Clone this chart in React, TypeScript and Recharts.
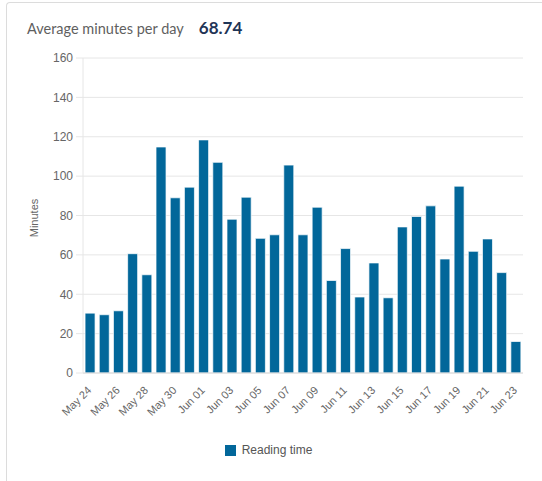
import { BarChart, Bar, XAxis, YAxis, CartesianGrid, Legend } from 'recharts';

const days = [
  'May 24', 'May 25', 'May 26', 'May 27', 'May 28', 'May 29', 'May 30', 'May 31',
  'Jun 01', 'Jun 02', 'Jun 03', 'Jun 04', 'Jun 05', 'Jun 06', 'Jun 07', 'Jun 08',
  'Jun 09', 'Jun 10', 'Jun 11', 'Jun 12', 'Jun 13', 'Jun 14', 'Jun 15', 'Jun 16',
  'Jun 17', 'Jun 18', 'Jun 19', 'Jun 20', 'Jun 21', 'Jun 22', 'Jun 23',
];
const minutes = [
  30.4, 29.6, 31.6, 60.6, 49.9, 114.8, 89, 94.4, 118.4, 107, 78.1, 89.3, 68.4, 70.2, 105.6, 70.2,
  84.2, 47, 63.2, 38.6, 55.9, 38.2, 74.2, 79.5, 84.9, 57.9, 94.9, 61.8, 68.1, 51, 16,
];
const yTicks = [0, 20, 40, 60, 80, 100, 120, 140, 160];
const averageLabel = '68.74';

const data = days.map((day, i) => ({ day, minutes: minutes[i] }));

const axisFont = '"Liberation Sans", Arial, sans-serif';

const DayTick = ({ x, y, payload }: any) => (
  <g transform={`translate(${x + 2},${y + 18})`}>
    <text textAnchor="end" transform="rotate(-45)" fill="#666" fontSize={11} fontFamily={axisFont}>
      {payload.value}
    </text>
  </g>
);

const LegendContent = () => (
  <div style={{ display: 'flex', justifyContent: 'center', alignItems: 'center', height: 20, paddingLeft: 14 }}>
    <span style={{ width: 11, height: 11, background: '#02679a', display: 'inline-block', marginRight: 6 }} />
    <span style={{ fontFamily: axisFont, fontSize: 12, color: '#555' }}>Reading time</span>
  </div>
);

export default function App() {
  return (
    <div style={{ position: 'absolute', left: 0, top: 0, width: 542, height: 481, overflow: 'hidden', background: '#fff' }}>
      <div
        style={{
          position: 'absolute', left: 6, top: 2, width: 700, height: 700,
          borderTop: '1px solid #dcdcdc', borderLeft: '1px solid #dcdcdc', borderTopLeftRadius: 4,
        }}
      />
      <div style={{ position: 'absolute', left: 27, top: 17, fontFamily: 'Lato, sans-serif', display: 'flex', alignItems: 'baseline' }}>
        <span style={{ fontSize: 14.5, color: '#5f5f5f' }}>Average minutes per day</span>
        <span style={{ fontSize: 17, fontWeight: 700, color: '#1f3557', marginLeft: 15 }}>{averageLabel}</span>
      </div>
      <div style={{ position: 'absolute', left: 0, top: 0 }}>
        <BarChart width={542} height={481} data={data} margin={{ top: 58, right: 19, left: 0, bottom: 28 }} barCategoryGap="14.5%">
          <CartesianGrid vertical={false} stroke="#e6e6e6" />
          <XAxis
            dataKey="day"
            interval={1}
            height={60}
            tick={<DayTick />}
            tickLine={false}
            tickSize={0}
            tickMargin={0}
            axisLine={{ stroke: '#d8d8d8' }}
          />
          <YAxis
            width={83}
            domain={[0, 160]}
            ticks={yTicks}
            tickSize={7}
            tickMargin={3}
            tickLine={{ stroke: '#e6e6e6' }}
            axisLine={{ stroke: '#e6e6e6' }}
            tick={{ fill: '#666', fontSize: 12, fontFamily: axisFont }}
            label={{
              content: () => (
                <text x={38} y={218} transform="rotate(-90 38 218)" textAnchor="middle" fill="#666" fontSize={11} fontFamily={axisFont}>
                  Minutes
                </text>
              ),
            }}
          />
          <Legend verticalAlign="bottom" content={<LegendContent />} wrapperStyle={{ bottom: 21 }} />
          <Bar dataKey="minutes" name="Reading time" fill="#02679a" stroke="#ffffff" strokeOpacity={0.7} strokeWidth={1} isAnimationActive={false} />
        </BarChart>
      </div>
    </div>
  );
}
